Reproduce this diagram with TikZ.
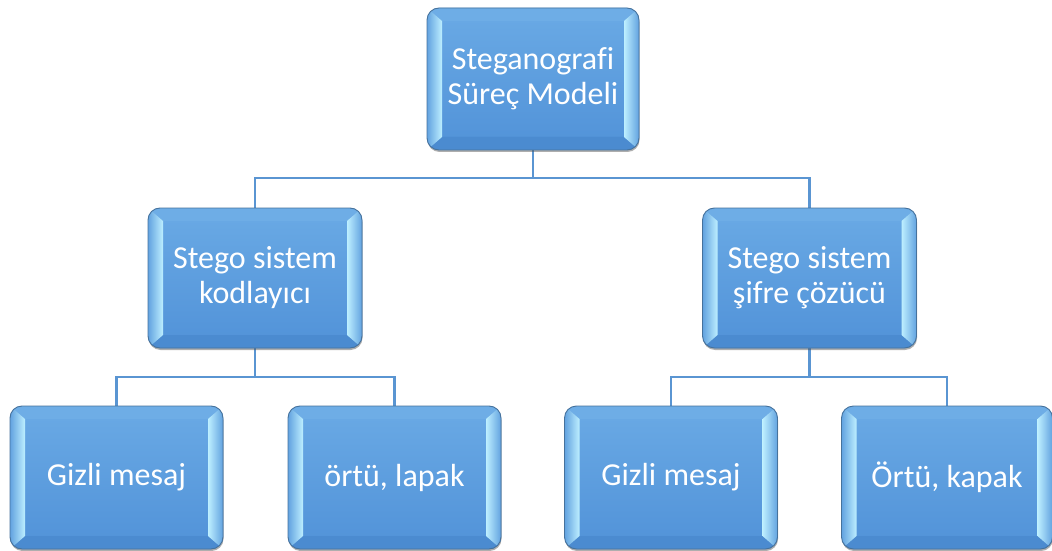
\documentclass[tikz,border=0pt]{standalone}
\usepackage{fontspec}
\setmainfont{Carlito}[Ligatures=NoCommon]
\usetikzlibrary{calc,shadows,backgrounds}

\definecolor{facetop}{HTML}{6AAAE5}
\definecolor{facebot}{HTML}{5192D8}
\definecolor{boxline}{HTML}{46729C}
\definecolor{bvouter}{HTML}{62A2E0}
\definecolor{bvinner}{HTML}{BDEFFF}
\definecolor{bvtop}{HTML}{6EADE6}
\definecolor{bvbot}{HTML}{4B8BD0}
\definecolor{conn}{HTML}{5A95D2}

\tikzset{
  bevelbox/.style={
    rounded corners=12pt, draw=boxline, line width=0.9pt,
    minimum width=213pt, minimum height=142pt, inner sep=0pt,
    top color=facetop, bottom color=facebot,
    text=white, align=center, font=\fontsize{32}{35}\selectfont,
    drop shadow={shadow xshift=0.5pt, shadow yshift=-2pt, opacity=0.45, fill=black!70},
    path picture={
      % bevelled rim: top, bottom, left and right facets
      \fill[sharp corners, bvtop] let \p1=(path picture bounding box.south west),
            \p2=(path picture bounding box.north east) in
        (\x1,\y2) -- (\x2,\y2) -- (\x2-15pt,\y2-13pt) -- (\x1+15pt,\y2-13pt) -- cycle;
      \fill[sharp corners, bvbot] let \p1=(path picture bounding box.south west),
            \p2=(path picture bounding box.north east) in
        (\x1,\y1) -- (\x2,\y1) -- (\x2-15pt,\y1+13pt) -- (\x1+15pt,\y1+13pt) -- cycle;
      \shade[sharp corners, left color=bvouter, right color=bvinner] let \p1=(path picture bounding box.south west),
            \p2=(path picture bounding box.north east) in
        (\x1,\y1) -- (\x1+15pt,\y1+13pt) -- (\x1+15pt,\y2-13pt) -- (\x1,\y2) -- cycle;
      \shade[sharp corners, left color=bvinner, right color=bvouter] let \p1=(path picture bounding box.south west),
            \p2=(path picture bounding box.north east) in
        (\x2,\y1) -- (\x2-15pt,\y1+13pt) -- (\x2-15pt,\y2-13pt) -- (\x2,\y2) -- cycle;
    }
  },
  connector/.style={draw=conn, line width=2.6pt}
}

\begin{document}
\begin{tikzpicture}[x=1pt,y=1pt]
  \useasboundingbox (0,0) rectangle (1052,550);

  % top level
  \node[bevelbox, minimum width=212pt] (root) at (533,471) {Steganografi\\Süreç Modeli};

  % second level
  \node[bevelbox, minimum width=214pt, minimum height=140pt] (enc) at (255,272) {Stego sistem\\kodlayıcı};
  \node[bevelbox, minimum width=214pt, minimum height=140pt] (dec) at (809.5,272) {Stego sistem\\şifre çözücü};

  % third level
  \node[bevelbox, minimum height=143pt] (e1) at (116.5,72.5) {Gizli mesaj};
  \node[bevelbox, minimum height=143pt] (e2) at (394.5,72.5) {örtü, lapak};
  \node[bevelbox, minimum height=143pt] (d1) at (671,72.5) {Gizli mesaj};
  \node[bevelbox, minimum height=143pt, minimum width=211pt] (d2) at (947,72.5) {Örtü, kapak};

  % elbow connectors behind the boxes
  \begin{scope}[on background layer]
    \draw[connector] (root.south) -- (root.south |- 0,372) -| (enc.north);
    \draw[connector] (root.south |- 0,372) -| (dec.north);
    \draw[connector] (enc.south) -- (enc.south |- 0,173) -| (e1.north);
    \draw[connector] (enc.south |- 0,173) -| (e2.north);
    \draw[connector] (dec.south) -- (dec.south |- 0,173) -| (d1.north);
    \draw[connector] (dec.south |- 0,173) -| (d2.north);
  \end{scope}
\end{tikzpicture}
\end{document}
